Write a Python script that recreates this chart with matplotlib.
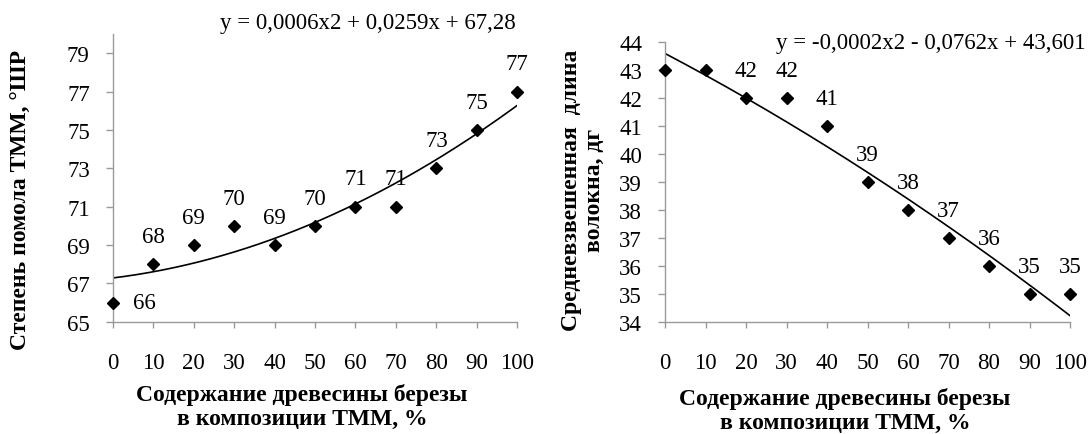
import numpy as np
import matplotlib
matplotlib.use("Agg")
import matplotlib.pyplot as plt

plt.rcParams['font.family'] = ['Liberation Serif', 'DejaVu Serif']

# ---- data ----
x_vals = [0, 10, 20, 30, 40, 50, 60, 70, 80, 90, 100]
freeness = [66, 68, 69, 70, 69, 70, 71, 71, 73, 75, 77]
fiber_len = [43, 43, 42, 42, 41, 39, 38, 37, 36, 35, 35]
fiber_label_shown = [False, False, True, True, True, True, True, True, True, True, True]
eq_left = "y = 0,0006x2 + 0,0259x + 67,28"
eq_right = "y = -0,0002x2 - 0,0762x + 43,601"
ylabel_left = "Степень помола ТММ, °ШР"
ylabel_right = "Средневзвешенная  длина\nволокна, дг"
xlabel = "Содержание древесины березы\nв композиции ТММ, %"
left_yticks = [65, 67, 69, 71, 73, 75, 77, 79]
right_yticks = [34, 35, 36, 37, 38, 39, 40, 41, 42, 43, 44]

W, H = 1090, 435
fig = plt.figure(figsize=(W / 100, H / 100), dpi=100)

def fx(px):
    return px / W

def fy(py):
    return 1 - py / H

ax1 = fig.add_axes([fx(112.7), fy(322.7), fx(404.6), (322.7 - 35) / H])
ax2 = fig.add_axes([fx(665), fy(323.3), fx(405), (323.3 - 43.3) / H])

spine_col = '#9a9a9a'
num_fs = 16.5
lab_fs = 17

def style(ax, ylim, yticks):
    ax.set_xlim(0, 100)
    ax.set_ylim(*ylim)
    ax.set_xticks(x_vals)
    ax.set_yticks(yticks)
    for s in ['top', 'right']:
        ax.spines[s].set_visible(False)
    for s in ['left', 'bottom']:
        ax.spines[s].set_color(spine_col)
        ax.spines[s].set_linewidth(1.0)
    ax.tick_params(axis='x', direction='out', length=4.5, width=1.0, color=spine_col,
                   labelsize=num_fs, pad=17)
    ax.tick_params(axis='y', direction='out', length=5, width=1.0, color=spine_col,
                   labelsize=num_fs, pad=11.5)
    ax.patch.set_alpha(0)

style(ax1, (65, 80), left_yticks)
style(ax2, (34, 44), right_yticks)

xx = np.linspace(0, 100, 200)

# left panel
c1 = np.polyfit(x_vals, freeness, 2)
ax1.plot(xx, np.polyval(c1, xx), color='black', lw=1.2, zorder=2)
ax1.plot(x_vals, freeness, linestyle='none', marker='D', markersize=6,
         color='black', zorder=3, clip_on=False)
for i, (xv, yv) in enumerate(zip(x_vals, freeness)):
    if i == 0:
        ax1.annotate(str(yv), (xv, yv), xytext=(23, 0), textcoords='offset points',
                     ha='center', va='center', fontsize=num_fs)
    else:
        ax1.annotate(str(yv), (xv, yv), xytext=(0, 20), textcoords='offset points',
                     ha='center', va='center', fontsize=num_fs)

# right panel
c2 = np.polyfit(x_vals, fiber_len, 2)
ax2.plot(xx, np.polyval(c2, xx), color='black', lw=1.2, zorder=2)
ax2.plot(x_vals, fiber_len, linestyle='none', marker='D', markersize=6,
         color='black', zorder=3, clip_on=False)
for xv, yv, show in zip(x_vals, fiber_len, fiber_label_shown):
    if show:
        ax2.annotate(str(yv), (xv, yv), xytext=(0, 20), textcoords='offset points',
                     ha='center', va='center', fontsize=num_fs)

# equations
fig.text(fx(516), fy(24), eq_left, ha='right', va='center', fontsize=num_fs)
fig.text(fx(1085), fy(43), eq_right, ha='right', va='center', fontsize=num_fs)

# axis labels
fig.text(fx(21), fy(200), ylabel_left, rotation=90, ha='center', va='center',
         fontsize=lab_fs, fontweight='bold')
fig.text(fx(583), fy(190), ylabel_right, rotation=90, ha='center', va='center',
         fontsize=lab_fs, fontweight='bold', multialignment='center', linespacing=1.15)
fig.text(fx(302), fy(407), xlabel, ha='center', va='center', fontsize=lab_fs,
         fontweight='bold', multialignment='center', linespacing=1.15)
fig.text(fx(845), fy(411), xlabel, ha='center', va='center', fontsize=lab_fs,
         fontweight='bold', multialignment='center', linespacing=1.15)

fig.savefig('out.png', dpi=100)
